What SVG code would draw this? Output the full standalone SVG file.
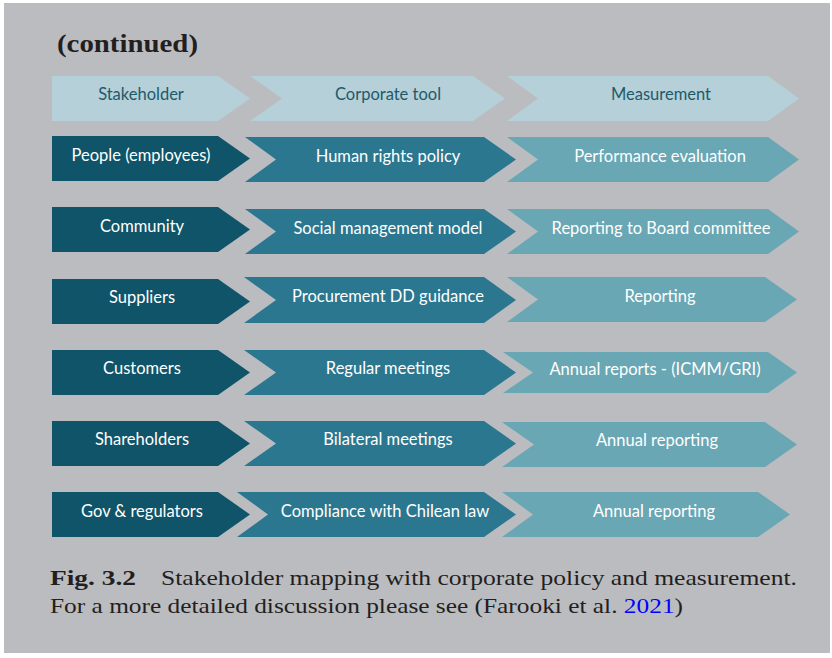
<svg xmlns="http://www.w3.org/2000/svg" width="832" height="658" viewBox="0 0 832 658">
<style>
.hd{fill:#b5d0d8}
.c1{fill:#0f5468}
.c2{fill:#2c7790}
.c3{fill:#69a7b4}
.t{font-family:Lato,"Open Sans",sans-serif;font-size:16.5px;text-anchor:middle;fill:#ffffff}
.th{font-family:Lato,"Open Sans",sans-serif;font-size:16.5px;text-anchor:middle;fill:#1e5a6b}
.cap{font-family:"Liberation Serif",serif;font-size:22px;fill:#231f20}
</style>
<rect x="0" y="0" width="832" height="658" fill="#ffffff"/>
<rect x="4" y="3" width="826" height="650" fill="#bbbcc0"/>
<text x="57" y="52" font-family="Liberation Serif,serif" font-size="25" font-weight="bold" fill="#231f20" textLength="141" lengthAdjust="spacingAndGlyphs">(continued)</text>

<g id="header">
<polygon class="hd" points="52,76 218,76 250,98.5 218,121 52,121"/>
<polygon class="hd" points="250,76 473,76 505,98.5 473,121 250,121 282,98.5"/>
<polygon class="hd" points="507,76 768,76 799,98.5 768,121 507,121 538,98.5"/>
<text class="th" x="141" y="100">Stakeholder</text>
<text class="th" x="388" y="100">Corporate tool</text>
<text class="th" x="661" y="100">Measurement</text>
</g>

<g id="row1">
<polygon class="c1" points="52,136 218,136 250,158.5 218,181 52,181"/>
<polygon class="c2" points="245,137 484,137 516,159.5 484,182 245,182 276,159.5"/>
<polygon class="c3" points="507,137 768,137 799,159.5 768,182 507,182 538,159.5"/>
<text class="t" x="141" y="161">People (employees)</text>
<text class="t" x="388" y="162">Human rights policy</text>
<text class="t" x="660" y="162">Performance evaluation</text>
</g>

<g id="row2">
<polygon class="c1" points="52,207 218,207 250,229.5 218,252 52,252"/>
<polygon class="c2" points="245,209 484,209 516,231.5 484,254 245,254 276,231.5"/>
<polygon class="c3" points="507,209 768,209 799,231.5 768,254 507,254 538,231.5"/>
<text class="t" x="142" y="232">Community</text>
<text class="t" x="388" y="234">Social management model</text>
<text class="t" x="661" y="234">Reporting to Board committee</text>
</g>

<g id="row3">
<polygon class="c1" points="52,279 218,279 250,301.5 218,324 52,324"/>
<polygon class="c2" points="244,277 484,277 516,300 484,323 244,323 276,300"/>
<polygon class="c3" points="507,277 765,277 797,299.5 765,322 507,322 538,299.5"/>
<text class="t" x="142" y="303">Suppliers</text>
<text class="t" x="388" y="302">Procurement DD guidance</text>
<text class="t" x="660" y="302">Reporting</text>
</g>

<g id="row4">
<polygon class="c1" points="52,350 218,350 250,372.5 218,395 52,395"/>
<polygon class="c2" points="244,350 484,350 516,372.5 484,395 244,395 276,372.5"/>
<polygon class="c3" points="503,352 768,352 797,372.5 768,393 503,393 533,372.5"/>
<text class="t" x="142" y="374">Customers</text>
<text class="t" x="388" y="374">Regular meetings</text>
<text class="t" x="655" y="375">Annual reports - (ICMM/GRI)</text>
</g>

<g id="row5">
<polygon class="c1" points="52,421 218,421 250,443.5 218,466 52,466"/>
<polygon class="c2" points="244,421 484,421 516,443.5 484,466 244,466 276,443.5"/>
<polygon class="c3" points="502,422 765,422 797,444.5 765,467 502,467 534,444.5"/>
<text class="t" x="142" y="445">Shareholders</text>
<text class="t" x="388" y="445">Bilateral meetings</text>
<text class="t" x="657" y="446">Annual reporting</text>
</g>

<g id="row6">
<polygon class="c1" points="52,492 218,492 250,514.5 218,537 52,537"/>
<polygon class="c2" points="237,492 484,492 516,514.5 484,537 237,537 268,514.5"/>
<polygon class="c3" points="502,492 758,492 790,514.5 758,537 502,537 533,514.5"/>
<text class="t" x="142" y="517">Gov &amp; regulators</text>
<text class="t" x="385" y="517">Compliance with Chilean law</text>
<text class="t" x="654" y="517">Annual reporting</text>
</g>

<g id="connectors"></g>

<text class="cap" x="50" y="585" font-weight="bold" textLength="86" lengthAdjust="spacingAndGlyphs">Fig. 3.2</text>
<text class="cap" x="161" y="585" textLength="636" lengthAdjust="spacingAndGlyphs">Stakeholder mapping with corporate policy and measurement.</text>
<text class="cap" x="50" y="613" textLength="633" lengthAdjust="spacingAndGlyphs">For a more detailed discussion please see (Farooki et al. <tspan fill="#0000ff">2021</tspan>)</text>
</svg>
